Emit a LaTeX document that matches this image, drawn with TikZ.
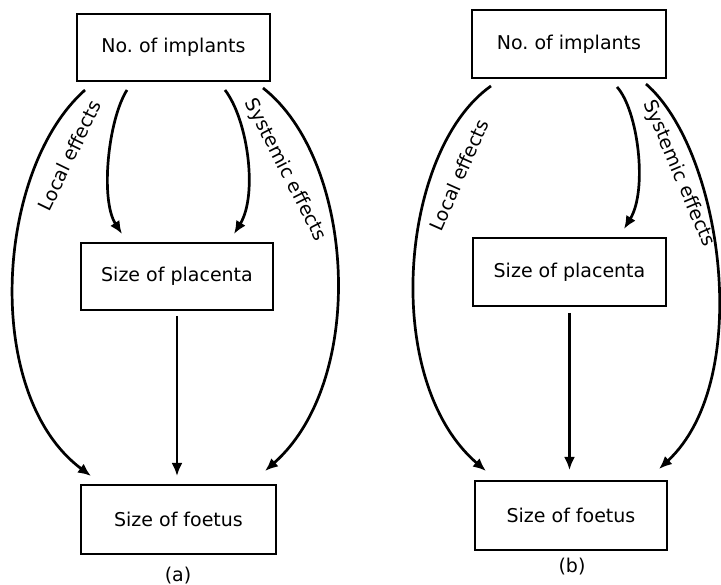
\documentclass[tikz,border=0pt]{standalone}
\usepackage{fontspec}
\setmainfont{DejaVu Sans}
\usetikzlibrary{arrows.meta}
\begin{document}
\begin{tikzpicture}[x=1pt,y=-1pt,
  box/.style={draw, line width=2pt, inner sep=0pt, font=\fontsize{19}{22}\selectfont},
  lbl/.style={font=\fontsize{19}{22}\selectfont, inner sep=0pt},
  conn/.style={line width=2.7pt, -{Latex[length=13pt,width=11pt]}}]
\useasboundingbox (0,0) rectangle (721,585);
% ---------- (a) ----------
\node[box, minimum width=193pt, minimum height=67pt] (ta) at (173.5,47.5) {No.\ of implants};
\node[box, minimum width=192pt, minimum height=67pt] (pa) at (177,276.5) {Size of placenta};
\node[box, minimum width=195pt, minimum height=69pt] (fa) at (178.5,519.5) {Size of foetus};
\node[lbl] (capa) at (178,576) {(a)};
\draw[conn] ([shift={(9,8)}]ta.south west) .. controls (-5,170) and (-18,395) .. ([shift={(11,-8)}]fa.north west);
\draw[conn] ([shift={(51,8)}]ta.south west) .. controls (108,120) and (100,200) .. ([shift={(42,-8)}]pa.north west);
\draw[conn] ([shift={(-46,8)}]ta.south east) .. controls (248,120) and (258,195) .. ([shift={(-40,-8)}]pa.north east);
\draw[conn] ([shift={(-8,6)}]ta.south east) .. controls (355,160) and (368,380) .. ([shift={(-12,-13)}]fa.north east);
\draw[conn, shorten <=5pt, shorten >=8pt] (pa.south) -- (pa.south |- fa.north);
\node[lbl, rotate=64] (la) at (69.5,155.5) {Local effects};
\node[lbl, rotate=-63] (sa) at (285,170) {Systemic effects};
% ---------- (b) ----------
\node[box, minimum width=194pt, minimum height=68pt] (tb) at (569,44) {No.\ of implants};
\node[box, minimum width=193pt, minimum height=68pt] (pb) at (569.5,272) {Size of placenta};
\node[box, minimum width=192pt, minimum height=69pt] (fb) at (571,515.5) {Size of foetus};
\node[lbl] (capb) at (572,567) {(b)};
\draw[conn] ([shift={(20,7)}]tb.south west) .. controls (400,150) and (380,380) .. ([shift={(12,-9)}]fb.north west);
\draw[conn] ([shift={(-50,8)}]tb.south east) .. controls (638,110) and (648,190) .. ([shift={(-43,-8)}]pb.north east);
\draw[conn] ([shift={(-21,5)}]tb.south east) .. controls (722,150) and (755,380) .. ([shift={(-9,-11)}]fb.north east);
\draw[conn, shorten <=6pt, shorten >=10pt] (pb.south) -- (pb.south |- fb.north);
\node[lbl, rotate=66] (lb) at (459,175) {Local effects};
\node[lbl, rotate=-67] (sb) at (678.5,173.5) {Systemic effects};
\end{tikzpicture}
\end{document}
